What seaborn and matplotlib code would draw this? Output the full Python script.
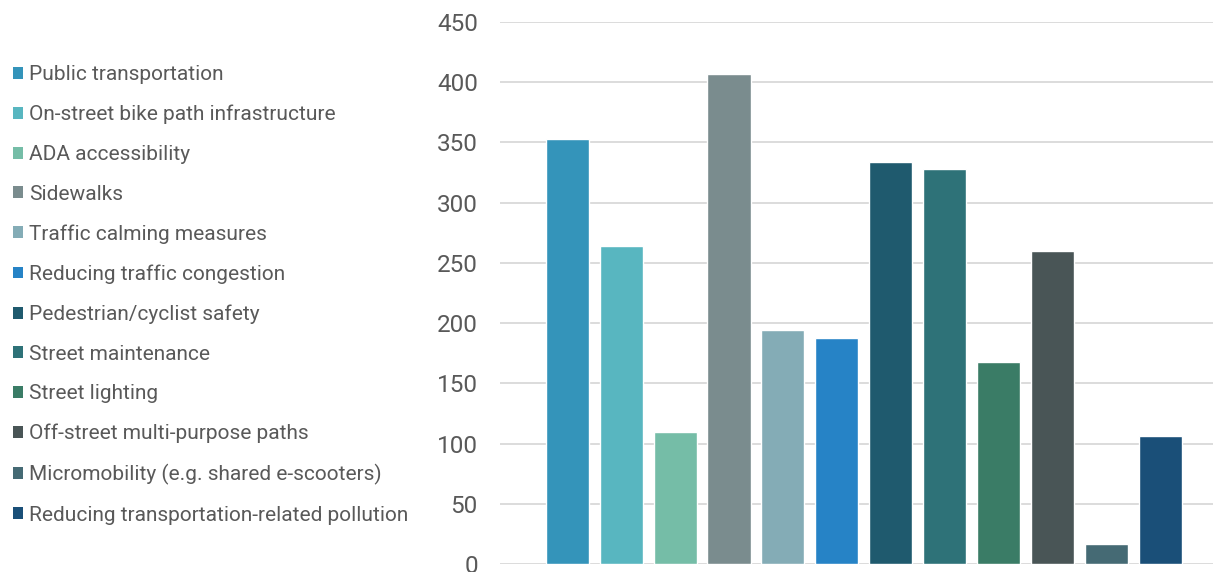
import numpy as np
import pandas as pd
import matplotlib
matplotlib.use("Agg")
import matplotlib.pyplot as plt
import matplotlib.patches as mpatches
import seaborn as sns

categories = [
    "Public transportation",
    "On-street bike path infrastructure",
    "ADA accessibility",
    "Sidewalks",
    "Traffic calming measures",
    "Reducing traffic congestion",
    "Pedestrian/cyclist safety",
    "Street maintenance",
    "Street lighting",
    "Off-street multi-purpose paths",
    "Micromobility (e.g. shared e-scooters)",
    "Reducing transportation-related pollution",
]
values = [353, 264, 110, 407, 194, 188, 334, 328, 168, 260, 17, 106]
colors = [
    "#3494BA", "#58B6C0", "#75BDA7", "#7A8C8E", "#84ACB6", "#2683C6",
    "#1F5A6E", "#2E7278", "#3A7C66", "#495556", "#456A74", "#1A4F78",
]
yticks = [0, 50, 100, 150, 200, 250, 300, 350, 400, 450]

sns.set_style("white")
plt.rcParams["font.family"] = ["Roboto", "DejaVu Sans"]

df = pd.DataFrame({"item": categories, "count": values})

fig = plt.figure(figsize=(12.13, 5.72), dpi=100)
ax = fig.add_axes([500 / 1213, 8 / 572, 713 / 1213, 542 / 572])

sns.barplot(data=df, x="item", y="count", hue="item", palette=colors,
            width=0.8, saturation=1, legend=False, ax=ax, zorder=3)

ax.set_xlim(-1.25, 11.98)
ax.set_ylim(0, 450)
ax.set_yticks(yticks)
ax.set_yticklabels([str(t) for t in yticks], fontsize=17.5, color="#595959")
ax.set_xticks([])
ax.set_xlabel("")
ax.set_ylabel("")
ax.yaxis.grid(True, color="#D9D9D9", linewidth=1.3, zorder=0)
ax.tick_params(axis="y", length=0, pad=16)
for s in ax.spines.values():
    s.set_visible(False)

handles = [mpatches.Patch(facecolor=c, edgecolor="none") for c in colors]
fig.legend(handles, categories, loc="center left",
           bbox_to_anchor=(0.0, 277 / 572), frameon=False,
           fontsize=15, labelcolor="#595959",
           handlelength=0.5, handleheight=0.5, handletextpad=0.3,
           labelspacing=0.99, borderaxespad=0.2)

fig.savefig("out.png", dpi=100)
